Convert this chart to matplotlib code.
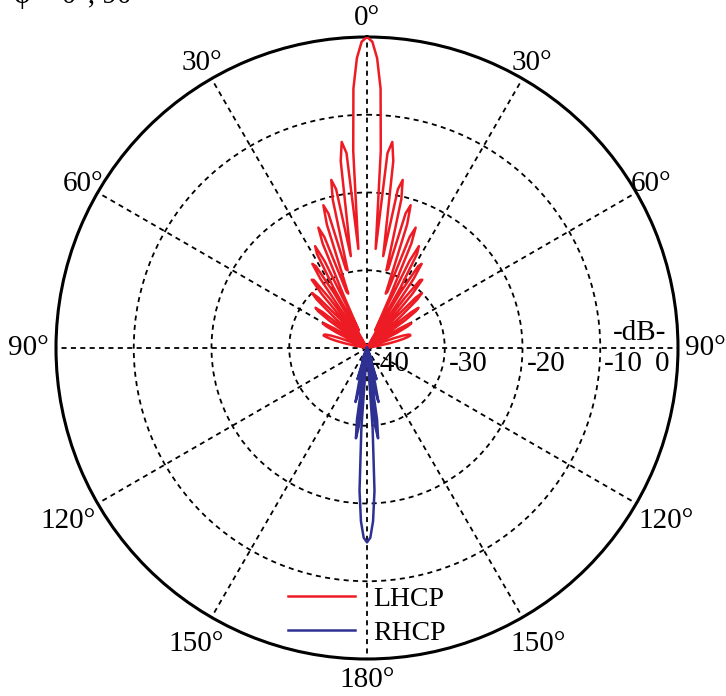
import numpy as np
import matplotlib.pyplot as plt

plt.rcParams['font.family'] = ['Liberation Serif', 'DejaVu Serif']

# gain cuts in dB, 1 degree steps away from the beam peak (same on both sides)
# values under -40 dB sit at the centre of the plot
lhcp_half = [0.0, -0.6, -2.7, -6.6, -14.6, -27.2, -14.8, -13.3, -15.7, -23.9,
             -28.0, -19.2, -17.9, -20.4, -29.7, -29.5, -22.0, -20.8, -23.3, -32.6,
             -32.3, -24.7, -23.3, -25.4, -32.8, -37.5, -27.6, -25.3, -26.3, -31.1,
             -40.0, -31.8, -27.6, -27.1, -29.3, -36.4, -40.0, -32.0, -28.9, -28.7,
             -31.0, -37.2, -40.0, -34.8, -31.0, -30.0, -31.0, -34.3, -40.0, -40.0,
             -36.0, -32.7, -31.6, -32.1, -34.0, -38.0, -40.0, -40.0, -38.4, -35.2,
             -33.8, -33.5, -34.1, -35.6, -38.3, -40.0, -40.0, -40.0, -40.0, -38.4,
             -36.3, -35.1, -34.4, -34.2, -34.2, -34.6, -35.2, -36.0, -37.0, -38.3,
             -39.7, -40.0]
# RHCP peaks towards 180 deg
rhcp_half = [-15.0, -15.6, -17.7, -21.6, -29.6, -40.0, -29.8, -28.3, -30.7, -38.9,
             -40.0, -34.2, -32.9, -35.4, -40.0, -40.0, -37.0, -35.8, -38.3, -40.0,
             -40.0, -39.7, -38.3, -40.0]

tick_angles = [0, 30, 60, 90, 120, 150, 180, 210, 240, 270, 300, 330]
tick_labels = ['0°', '30°', '60°', '90°', '120°', '150°', '180°',
               '150°', '120°', '90°', '60°', '30°']
label_gap = [2.4, 2.4, 2.2, 3.5, 4.4, 4.0, 2.7, 4.0, 4.4, 3.5, 2.2, 2.4]
r_ticks = [-40, -30, -20, -10]
r_labels = ['-40', '-30', '-20', '-10']


def mirror(half):
    half = np.asarray(half)
    return np.concatenate([half[:0:-1], half])


n_l = len(lhcp_half) - 1
n_r = len(rhcp_half) - 1
th_l = np.deg2rad(np.arange(-n_l, n_l + 1))
th_r = np.deg2rad(180 + np.arange(-n_r, n_r + 1))

fig = plt.figure(figsize=(7.26, 6.96), dpi=100)
ax = fig.add_axes([56 / 726, 37 / 696, 622 / 726, 622 / 696], projection='polar')
ax.set_theta_zero_location('N')
ax.set_theta_direction(-1)
ax.set_rlim(-40, 0)

l1, = ax.plot(th_l, mirror(lhcp_half), color='#ED1C24', lw=1.8, label='LHCP', zorder=3)
l2, = ax.plot(th_r, mirror(rhcp_half), color='#2E3192', lw=1.8, label='RHCP', zorder=4)

ax.set_xticks(np.deg2rad(tick_angles))
ax.set_xticklabels([])
ax.set_yticks([-30, -20, -10])
ax.set_yticklabels([])
ax.tick_params(length=0)
ax.grid(True, color='black', linestyle=(0, (2.8, 2.4)), linewidth=1.3)
ax.spines['polar'].set_linewidth(2.2)

for a, lab, g in zip(tick_angles, tick_labels, label_gap):
    ax.text(np.deg2rad(a), g, lab, ha='center', va='center', fontsize=21, clip_on=False)

for r, lab in zip(r_ticks, r_labels):
    ax.annotate(lab, xy=(np.pi / 2, r), xytext=(4, -3), textcoords='offset pixels',
                ha='left', va='top', fontsize=21)
ax.annotate('0', xy=(np.pi / 2, 0), xytext=(-9, -3), textcoords='offset pixels',
            ha='right', va='top', fontsize=21)
ax.annotate('-dB-', xy=(np.pi / 2, -4.9), xytext=(0, 15), textcoords='offset pixels',
            ha='center', va='center', fontsize=21)

fig.legend(handles=[l1, l2], loc='center left', bbox_to_anchor=(288 / 726, 1 - 616 / 696),
           frameon=False, fontsize=20, handlelength=2.4, handletextpad=0.65,
           labelspacing=0.3, borderpad=0, borderaxespad=0)

# title line sits mostly above the top edge, as in the source figure
fig.text(14 / 726, 1 - 3 / 696, 'φ = 0°, 90°', va='baseline', fontsize=21)

fig.savefig('out.png', dpi=100)
